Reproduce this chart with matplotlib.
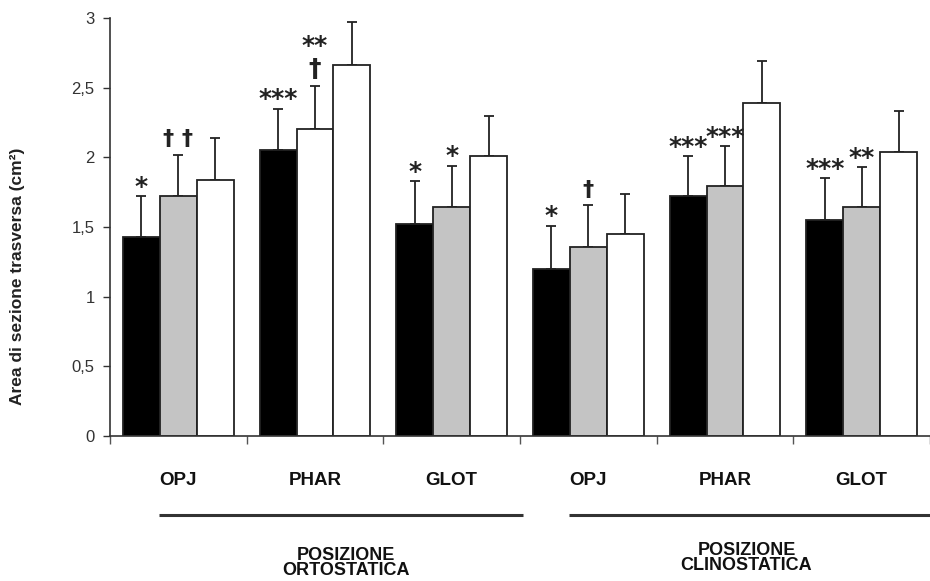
import matplotlib
matplotlib.use("Agg")
import matplotlib.pyplot as plt
import numpy as np
from matplotlib.transforms import blended_transform_factory

# ---------------- data ----------------
categories = ["OPJ", "PHAR", "GLOT", "OPJ", "PHAR", "GLOT"]
positions_labels = ["POSIZIONE\nORTOSTATICA", "POSIZIONE\nCLINOSTATICA"]

series1 = [1.43, 2.05, 1.52, 1.20, 1.72, 1.55]   # black
series2 = [1.72, 2.20, 1.64, 1.355, 1.795, 1.64]  # gray
series3 = [1.835, 2.66, 2.01, 1.45, 2.39, 2.04]  # white

err1 = [0.29, 0.30, 0.31, 0.31, 0.29, 0.30]
err2 = [0.30, 0.31, 0.30, 0.30, 0.285, 0.29]
err3 = [0.305, 0.31, 0.29, 0.29, 0.30, 0.295]

ann1 = ["*", "***", "*", "*", "***", "***"]
ann2 = ["† †", "**\n†", "*", "†", "***", "**"]
ann3 = ["", "", "", "", "", ""]

yticks = [0, 0.5, 1, 1.5, 2, 2.5, 3]
yticklabels = ["0", "0,5", "1", "1,5", "2", "2,5", "3"]
ylabel = "Area di sezione trasversa (cm²)"

# ---------------- style ----------------
face1 = ["black"] * 6
face2 = ["#c4c4c4", "white", "#c4c4c4", "#c4c4c4", "#c4c4c4", "#c4c4c4"]
face3 = ["white"] * 6

bold_font = ["Liberation Sans Narrow", "Liberation Sans", "DejaVu Sans"]
plain_font = ["Liberation Sans Narrow", "Liberation Sans", "DejaVu Sans"]

fig = plt.figure(figsize=(9.3, 5.81), dpi=100)
ax = fig.add_axes([110 / 930, 145 / 581, 1 - 110 / 930, 418 / 581])

x = np.arange(len(categories))
w = 0.27
offs = [-w, 0, w]
all_vals = [series1, series2, series3]
all_err = [err1, err2, err3]
all_face = [face1, face2, face3]
all_ann = [ann1, ann2, ann3]

for vals, errs, faces, anns, o in zip(all_vals, all_err, all_face, all_ann, offs):
    ax.bar(x + o, vals, width=w, color=faces, edgecolor="#222222", linewidth=1.3, zorder=2)
    ax.errorbar(x + o, vals, yerr=[np.zeros(len(vals)), errs], fmt="none",
                ecolor="#222222", elinewidth=1.3, capsize=3.6, capthick=1.3, zorder=1)
    for xi, v, e, a in zip(x + o, vals, errs, anns):
        if not a:
            continue
        if "†" in a and "*" not in a:
            ax.annotate(a, xy=(xi, v + e), xytext=(0, 4), textcoords="offset points",
                        ha="center", va="bottom", fontsize=16, fontweight="bold",
                        family="DejaVu Sans", color="#222222")
        elif "\n" in a:
            ax.annotate(a, xy=(xi, v + e), xytext=(0, 4), textcoords="offset points",
                        ha="center", va="bottom", fontsize=18, fontweight="bold",
                        family="DejaVu Sans", color="#222222", linespacing=0.95)
        else:
            ax.annotate(a, xy=(xi, v + e), xytext=(0, -2), textcoords="offset points",
                        ha="center", va="bottom", fontsize=18, fontweight="bold",
                        family="DejaVu Sans", color="#222222")

ax.set_xlim(-0.5, 5.42)
ax.set_ylim(0, 3)

for s in ["top", "right"]:
    ax.spines[s].set_visible(False)
ax.spines["left"].set_color("#333333")
ax.spines["bottom"].set_color("#333333")
ax.spines["left"].set_linewidth(1.2)
ax.spines["bottom"].set_linewidth(1.2)

ax.set_yticks(yticks)
ax.set_yticklabels(yticklabels, family=plain_font, fontsize=12, color="#333333")
ax.tick_params(axis="y", direction="out", length=5, width=1, color="#333333", pad=6)

ax.set_xticks(x)
ax.set_xticklabels(categories, family=bold_font, fontweight="bold", fontsize=13.5, color="#111111")
ax.tick_params(axis="x", which="major", length=0, pad=26)
ax.set_xticks(np.arange(-0.5, 6, 1), minor=True)
ax.tick_params(axis="x", which="minor", direction="out", length=6, width=1, color="#555555")

fig.text(18 / 930, 1 - 276 / 581, ylabel, rotation=90, ha="center", va="center",
         family=["Liberation Sans", "DejaVu Sans"], fontweight="bold", fontsize=12.5, color="#222222")

trans = blended_transform_factory(ax.transData, ax.transAxes)
line_spans = [(x[0] - 0.14, x[2] + 0.52), (x[3] - 0.14, x[5] + 0.6)]
for (a, b) in line_spans:
    ax.plot([a, b], [-0.189, -0.189], transform=trans, color="#333333", lw=2.2,
            clip_on=False, solid_capstyle="butt")

label_pos = [(1.226, -0.304), (4.157, -0.292)]
for lab, (lx, ly) in zip(positions_labels, label_pos):
    ax.text(lx, ly, lab, transform=trans, ha="center", va="center", family=bold_font,
            fontweight="bold", fontsize=13, linespacing=0.85, color="#111111")

fig.savefig("out.png", dpi=100)
